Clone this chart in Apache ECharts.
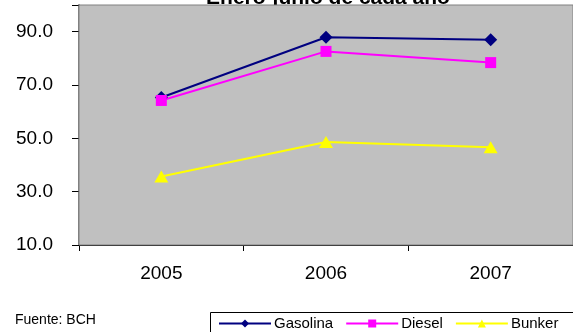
<!DOCTYPE html>
<html>
<head>
<meta charset="utf-8">
<script src="https://cdn.jsdelivr.net/npm/echarts@6/dist/echarts.min.js"></script>
<style>
html,body{margin:0;padding:0;background:#fff;}
#c{width:573px;height:332px;}
</style>
</head>
<body>
<div id="c"></div>
<script>
var categories = ['2005', '2006', '2007'];
var gasolina = [65.3, 87.9, 87.0];
var diesel = [64.2, 82.6, 78.4];
var bunker = [35.7, 48.6, 46.7];
var yTicks = [10, 30, 50, 70, 90];
var titleText = 'Enero-junio de cada año';
var sourceText = 'Fuente: BCH';

var chart = echarts.init(document.getElementById('c'), null, {renderer: 'canvas'});
var font = '"Liberation Sans", Arial, sans-serif';
chart.setOption({
  animation: false,
  backgroundColor: '#ffffff',
  grid: {
    left: 79, right: 0, top: 5, bottom: 87,
    show: true, backgroundColor: '#C0C0C0', borderColor: '#808080', borderWidth: 1,
    containLabel: false, z: 2
  },
  graphic: [
    {type: 'text', left: 15, top: 313, z: 10,
     style: {text: sourceText, fontFamily: font, fontSize: 14, fill: '#000'}},
    {type: 'text', x: 328, y: 9, z: -5,
     style: {text: titleText, fontFamily: font, fontSize: 21, fontWeight: 'bold', fill: '#000',
             textAlign: 'center', textVerticalAlign: 'bottom'}},
    {type: 'rect', z: 1, shape: {x: 210.5, y: 312.5, width: 400, height: 40},
     style: {fill: '#fff', stroke: '#000', lineWidth: 1}}
  ],
  legend: {
    left: 218, top: 316,
    padding: 0,
    itemGap: 12,
    itemWidth: 52, itemHeight: 10,
    z: 5,
    textStyle: {fontFamily: font, fontSize: 15, color: '#000', padding: [0, 0, 0, -2]},
    data: ['Gasolina', 'Diesel', 'Bunker']
  },
  xAxis: {
    type: 'category', data: categories, boundaryGap: true,
    axisLine: {lineStyle: {color: '#000', width: 1}},
    axisTick: {show: true, length: 6, lineStyle: {color: '#000'}},
    axisLabel: {fontFamily: font, fontSize: 19, color: '#000', margin: 19}
  },
  yAxis: {
    type: 'value', min: 10, max: 100, interval: 20,
    axisLine: {show: true, lineStyle: {color: '#808080', width: 2}},
    axisTick: {show: true, length: 7, lineStyle: {color: '#000'}},
    axisLabel: {
      fontFamily: font, fontSize: 19, color: '#000', margin: 26,
      formatter: function (v) { return yTicks.indexOf(v) >= 0 ? v.toFixed(1) : ''; }
    },
    splitLine: {show: true, lineStyle: {color: ['#000', '#000', '#000', '#000', '#000', '#808080'], width: 1}}
  },
  series: [
    {name: 'Gasolina', type: 'line', data: gasolina, symbol: 'diamond', symbolSize: [13, 13],
     lineStyle: {color: '#000080', width: 2}, itemStyle: {color: '#000080'}},
    {name: 'Diesel', type: 'line', data: diesel, symbol: 'rect', symbolSize: 11,
     lineStyle: {color: '#FF00FF', width: 2}, itemStyle: {color: '#FF00FF'}},
    {name: 'Bunker', type: 'line', data: bunker, symbol: 'triangle', symbolSize: [14, 12],
     lineStyle: {color: '#FFFF00', width: 2}, itemStyle: {color: '#FFFF00'}}
  ]
});
</script>
</body>
</html>
